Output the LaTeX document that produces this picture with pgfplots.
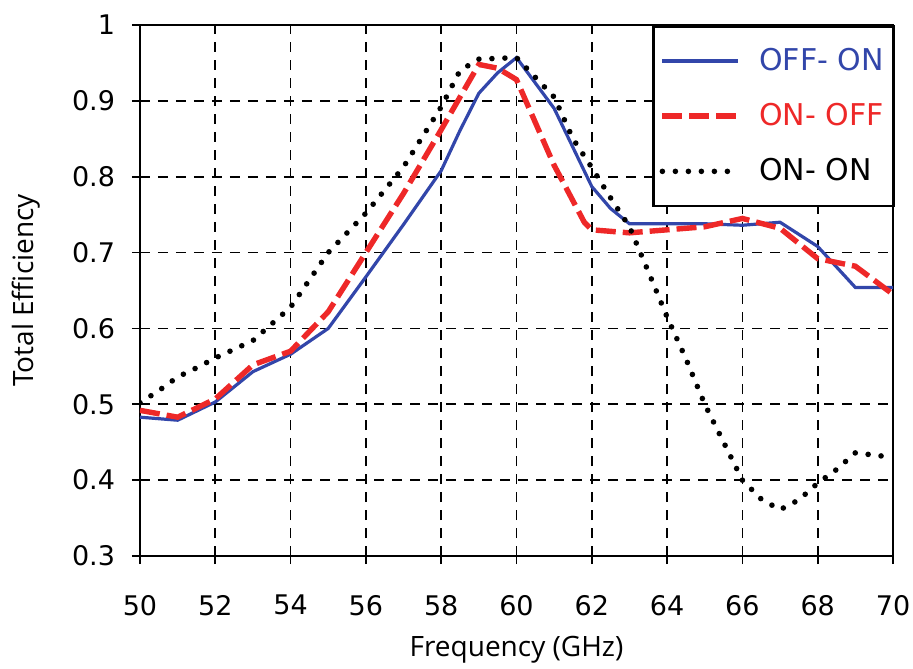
\documentclass[border=0pt]{standalone}
\usepackage{fontspec}
\setmainfont{Open Sans}
\newfontfamily\tickfont{DejaVu Sans}
\usepackage{pgfplots}
\pgfplotsset{compat=1.18}
\definecolor{cblue}{RGB}{50,70,170}
\definecolor{cred}{RGB}{238,40,40}
\begin{document}
\begin{tikzpicture}
\path[use as bounding box] (-70bp,-56.5bp) rectangle (386.5bp,278bp);
\begin{axis}[
  at={(0,0)}, anchor=south west,
  scale only axis,
  width=376.5bp, height=265.5bp,
  xmin=50, xmax=70, ymin=0.3, ymax=1,
  xtick={50,52,...,70},
  ytick={0.3,0.4,...,1.0},
  yticklabels={0.3,0.4,0.5,0.6,0.7,0.8,0.9,1},
  xtick pos=bottom, ytick pos=left,
  tick align=center,
  major tick length=8bp,
  every tick/.style={black, line width=0.9bp},
  axis line style={line width=1.1bp},
  grid=major,
  major grid style={black, line width=0.8bp, dash pattern=on 5bp off 4bp},
  /pgf/number format/assume math mode=true,
  tick label style={font=\tickfont\fontsize{13.5bp}{16bp}\selectfont},
  xticklabel style={yshift=-12bp},
  yticklabel style={xshift=-5bp},
  xlabel={Frequency (GHz)},
  ylabel={Total Efficiency},
  label style={font=\fontsize{14bp}{17bp}\selectfont},
  xlabel style={at={(axis description cs:0.5,0)}, anchor=center, yshift=-47bp},
  ylabel style={at={(axis description cs:0,0.5)}, anchor=center, rotate=0, yshift=57bp},
  legend style={at={(rel axis cs:1,1)}, anchor=north east, xshift=1bp,
    draw=black, line width=1.3bp, inner xsep=3bp, inner ysep=9bp,
    font=\tickfont\fontsize{15bp}{18bp}\selectfont,
    row sep=11bp, cells={anchor=west}},
  legend image code/.code={\draw[#1] (0cm,0cm) -- (38bp,0cm); \path (45bp,0cm);},
  legend cell align=left,
]
\addplot[cblue, line width=1.6bp] coordinates {
(50,0.483) (51,0.479) (52,0.503) (53,0.543) (54,0.566) (55,0.600) (56,0.668)
(57,0.737) (58,0.808) (58.5,0.861) (59,0.910) (59.5,0.937) (60,0.957) (61,0.890)
(62,0.787) (62.5,0.758) (63,0.738) (64,0.738) (65,0.738) (66,0.736) (67,0.740)
(68,0.708) (69,0.654) (70,0.654)};
\addlegendentry{\textcolor{cblue}{OFF- ON}}
\addplot[cred, line width=2.7bp, dash pattern=on 10bp off 3.5bp] coordinates {
(50,0.492) (51,0.483) (52,0.507) (53,0.552) (54,0.570) (55,0.622) (56,0.700)
(57,0.778) (58,0.862) (58.5,0.905) (59,0.948) (59.5,0.943) (60,0.928) (61,0.815)
(61.8,0.740) (62,0.730) (63,0.726) (64,0.730) (65,0.734) (66,0.745) (67,0.732)
(68,0.692) (69,0.682) (70,0.645)};
\addlegendentry{\textcolor{cred}{ON- OFF}}
\addplot[black, line width=2.8bp, line cap=round, dash pattern=on 0bp off 6.5bp] coordinates {
(50,0.502) (50.5,0.518) (51,0.536) (51.5,0.548) (52,0.561) (53,0.584) (54,0.628)
(55,0.700) (56,0.752) (57,0.813) (58,0.892) (58.5,0.940) (59,0.955) (60,0.957)
(61,0.905) (61.5,0.850) (62,0.812) (62.5,0.772) (63,0.734) (63.5,0.675) (64,0.615)
(64.5,0.560) (65,0.500) (65.5,0.450) (66,0.400) (66.5,0.375) (67,0.361) (67.5,0.374)
(68,0.396) (68.5,0.414) (69,0.436) (69.5,0.433) (70,0.430)};
\addlegendentry{ON- ON}
\end{axis}
\end{tikzpicture}
\end{document}
